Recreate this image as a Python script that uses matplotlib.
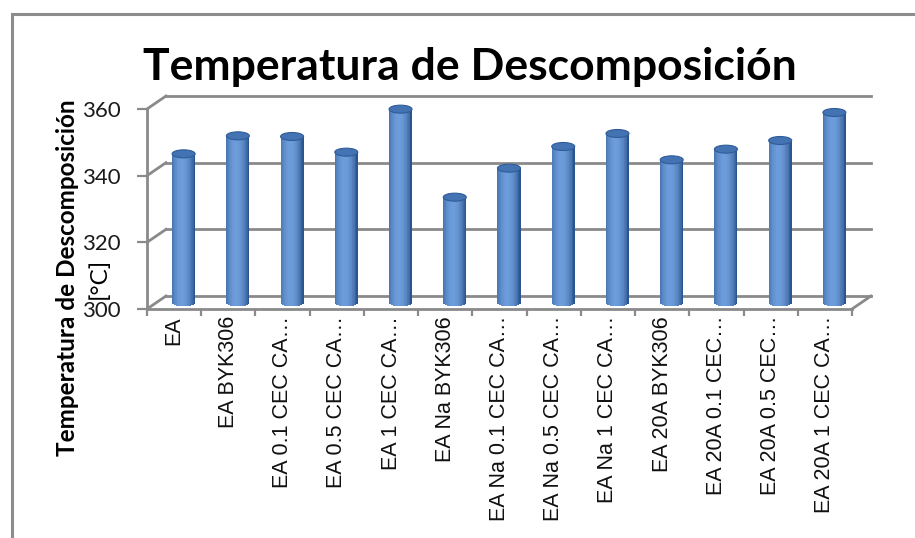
import numpy as np
import matplotlib
matplotlib.use('Agg')
import matplotlib.pyplot as plt
from matplotlib.patches import Ellipse, Rectangle
from matplotlib.colors import to_rgb

# datos
categories = ['EA', 'EA BYK306', 'EA 0.1 CEC CA…', 'EA 0.5 CEC CA…', 'EA 1 CEC CA…',
              'EA Na BYK306', 'EA Na 0.1 CEC CA…', 'EA Na 0.5 CEC CA…', 'EA Na 1 CEC CA…',
              'EA 20A BYK306', 'EA 20A 0.1 CEC…', 'EA 20A 0.5 CEC…', 'EA 20A 1 CEC CA…']
temps = [344.6, 350.0, 349.8, 345.1, 358.0, 331.6, 340.3, 346.8, 350.7, 342.8, 346.0, 348.6, 357.0]
y_ticks = [300, 320, 340, 360]

title = 'Temperatura de Descomposición'
ylabel = 'Temperatura de Descomposición'
yunit = '[°C]'

W, H = 915, 538
grid_col = '#8a8a8a'
dark = np.array(to_rgb('#2b558f'))
light = np.array(to_rgb('#6c9cda'))

fig = plt.figure(figsize=(W / 100, H / 100), dpi=100)
ax = fig.add_axes([147 / W, 1 - 309 / H, 705 / W, 200 / H])
n_cat = len(categories)
ax.set_xlim(-0.5, n_cat - 0.5)
ax.set_ylim(y_ticks[0], y_ticks[-1])

# profundidad del efecto 3D (pixeles -> unidades de datos)
cat_px = 705 / n_cat
unit_px = 200 / (y_ticks[-1] - y_ticks[0])
DX = 19 / cat_px
DY = 13 / unit_px

for s in ['top', 'right']:
    ax.spines[s].set_visible(False)
for s in ['left', 'bottom']:
    ax.spines[s].set_color(grid_col)
    ax.spines[s].set_linewidth(2)

# pared del fondo
x0, x1 = -0.5, n_cat - 0.5
for g in y_ticks:
    ax.plot([x0 + DX, x1 + DX], [g + DY, g + DY], color=grid_col, lw=2, clip_on=False, zorder=1)
    ax.plot([x0, x0 + DX], [g, g + DY], color=grid_col, lw=2, clip_on=False, zorder=1)
ax.plot([x1, x1 + DX], [y_ticks[0], y_ticks[0] + DY], color=grid_col, lw=2, clip_on=False, zorder=1)

# cilindros
x = np.arange(n_cat) + DX / 2
bw = 23 / cat_px
eh = 8 / unit_px
n_strip = 30
edges = np.linspace(-bw / 2, bw / 2, n_strip + 1)
centers = (edges[:-1] + edges[1:]) / 2
tt = centers / (bw / 2)
base = y_ticks[0] + DY / 2
vals = np.array(temps) + DY / 2
for k in range(n_strip):
    f = np.clip(np.cos((tt[k] + 0.15) * np.pi / 2.1), 0, 1) ** 0.7
    col = dark + (light - dark) * f
    bot = base - eh / 2 * np.sqrt(max(1 - tt[k] ** 2, 0))
    ax.bar(x + centers[k], vals - bot, bottom=bot, width=bw / n_strip * 1.1,
           color=col, lw=0, zorder=3, clip_on=False)
for xi, v in zip(x, vals):
    ax.add_patch(Ellipse((xi, v), bw, eh, facecolor='#4373b3', edgecolor='#2f5c98',
                         lw=0.8, zorder=4, clip_on=False))

# ejes
ax.set_yticks(y_ticks)
ax.tick_params(axis='y', direction='out', length=7, width=1.6, color=grid_col,
               pad=12, labelsize=16, labelcolor='#1a1a1a')
for lab in ax.get_yticklabels():
    lab.set_family('Lato')
ax.set_xticks(np.arange(n_cat))
ax.set_xticklabels(categories, rotation=90, ha='center', va='top',
                   fontsize=15.5, family='Liberation Sans', color='#111111')
ax.set_xticks(np.arange(-0.5, n_cat), minor=True)
ax.tick_params(axis='x', which='major', length=0, pad=5)
ax.tick_params(axis='x', which='minor', direction='out', length=5, width=1.6, color=grid_col)

# titulo y etiquetas
fig.text(470 / W, 1 - 80 / H, title, ha='center', va='baseline',
         fontsize=32, fontweight='bold', family='Lato')
fig.text(68 / W, 1 - 278 / H, ylabel, rotation=90, ha='center', va='center',
         fontsize=17.5, fontweight='bold', family='Lato')
fig.text(99 / W, 1 - 278 / H, yunit, rotation=90, ha='center', va='center',
         fontsize=17.5, family='Lato')

# marco del grafico
fig.add_artist(Rectangle((12 / W, -0.05), 1.0, 1 - 14 / H + 0.05, transform=fig.transFigure,
                         fill=False, ec='#8c8c8c', lw=2.2))

fig.savefig('out.png', dpi=100)
